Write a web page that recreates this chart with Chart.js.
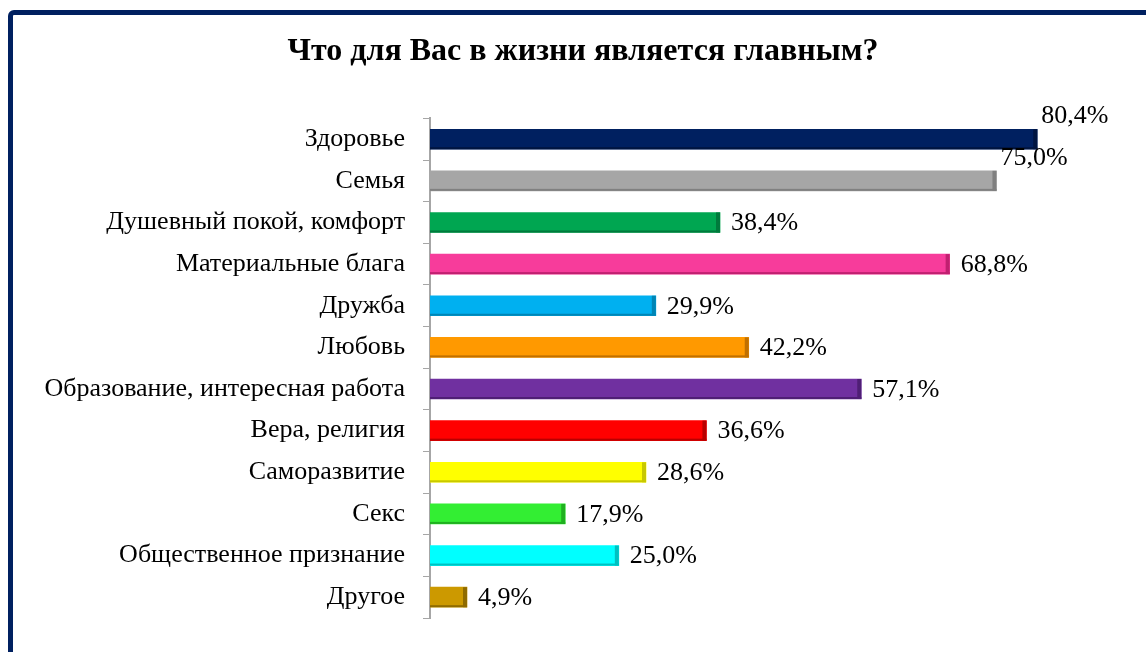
<!DOCTYPE html>
<html>
<head>
<meta charset="utf-8">
<script src="https://cdn.jsdelivr.net/npm/chart.js@4"></script>
<style>
  html, body { margin: 0; padding: 0; background: #ffffff; overflow: hidden; }
  #wrap { position: relative; width: 1146px; height: 652px; }
  #frame { position: absolute; left: 8px; top: 10px; width: 1200px; height: 700px;
           border: 5px solid #002060; border-radius: 6px; box-sizing: border-box; pointer-events: none; }
</style>
</head>
<body>
<div id="wrap">
  <canvas id="c" width="1146" height="652"></canvas>
  <div id="frame"></div>
</div>
<script>
const titleText = 'Что для Вас в жизни является главным?';
const categories = [
  'Здоровье', 'Семья', 'Душевный покой, комфорт', 'Материальные блага', 'Дружба', 'Любовь',
  'Образование, интересная работа', 'Вера, религия', 'Саморазвитие', 'Секс',
  'Общественное признание', 'Другое'
];
const values = [80.4, 75.0, 38.4, 68.8, 29.9, 42.2, 57.1, 36.6, 28.6, 17.9, 25.0, 4.9];
const barColors = ['#002060', '#a6a6a6', '#00a651', '#f73c9b', '#00b0f0', '#ff9900',
                   '#7030a0', '#ff0000', '#ffff00', '#33ee33', '#00ffff', '#cc9900'];
const edgeColors = ['#001540', '#808080', '#007a3c', '#c02070', '#0085b5', '#c07000',
                    '#4f1f75', '#b80000', '#c8c800', '#20b020', '#00c0c0', '#8f6b00'];

const sideEdge = {
  id: 'sideEdge',
  afterDatasetsDraw(chart) {
    const ctx = chart.ctx;
    const meta = chart.getDatasetMeta(0);
    ctx.save();
    meta.data.forEach((bar, i) => {
      const h = bar.height;
      const top = bar.y - h / 2;
      ctx.fillStyle = edgeColors[i];
      ctx.fillRect(bar.x - 4, top, 4, h);
      ctx.fillRect(bar.base, top + h - 2, bar.x - bar.base, 2);
    });
    ctx.restore();
  }
};

const valueLabels = {
  id: 'valueLabels',
  afterDatasetsDraw(chart) {
    const ctx = chart.ctx;
    const meta = chart.getDatasetMeta(0);
    ctx.save();
    ctx.font = '26px "Liberation Serif", "Times New Roman", serif';
    ctx.fillStyle = '#000000';
    ctx.textAlign = 'left';
    ctx.textBaseline = 'middle';
    meta.data.forEach((bar, i) => {
      const txt = values[i].toFixed(1).replace('.', ',') + '%';
      if (values[i] > 70) {
        ctx.fillText(txt, bar.x + 4, bar.y - 23);
      } else {
        ctx.fillText(txt, bar.x + 11, bar.y + 1);
      }
    });
    ctx.restore();
  }
};

new Chart(document.getElementById('c'), {
  type: 'bar',
  data: {
    labels: categories,
    datasets: [{
      data: values,
      backgroundColor: barColors,
      borderWidth: 0,
      barThickness: 20
    }]
  },
  options: {
    indexAxis: 'y',
    responsive: false,
    animation: false,
    layout: { padding: { left: 20, right: 0, top: 0, bottom: 34 } },
    plugins: {
      legend: { display: false },
      tooltip: { enabled: false },
      title: {
        display: true,
        text: titleText,
        color: '#000000',
        font: { family: '"Liberation Serif", "Times New Roman", serif', size: 32, weight: 'bold' },
        padding: { top: 33, bottom: 47 }
      }
    },
    scales: {
      x: { display: false, min: 0, max: 94.8 },
      y: {
        afterFit(scale) { scale.width = 410; },
        grid: { display: true, drawOnChartArea: false, drawTicks: true, tickLength: 7, color: '#a6a6a6' },
        border: { display: true, color: '#a6a6a6', width: 2 },
        ticks: {
          color: '#000000',
          padding: 18,
          font: { family: '"Liberation Serif", "Times New Roman", serif', size: 26 }
        }
      }
    }
  },
  plugins: [sideEdge, valueLabels]
});
</script>
</body>
</html>
